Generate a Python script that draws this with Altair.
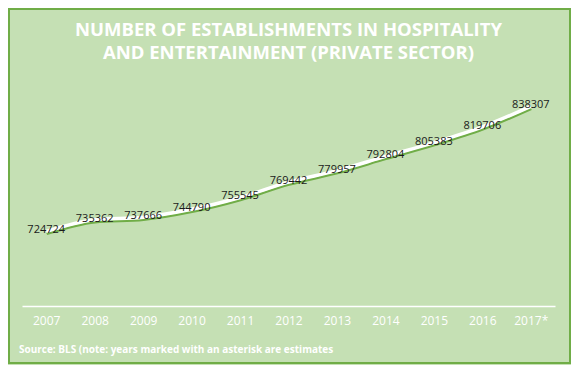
import altair as alt
import pandas as pd

years = ["2007", "2008", "2009", "2010", "2011", "2012", "2013", "2014", "2015", "2016", "2017*"]
values = [724724, 735362, 737666, 744790, 755545, 769442, 779957, 792804, 805383, 819706, 838307]
title_lines = ["NUMBER OF ESTABLISHMENTS IN HOSPITALITY", "AND ENTERTAINMENT (PRIVATE SECTOR)"]
source_text = "Source: BLS (note: years marked with an asterisk are estimates"

df = pd.DataFrame({"year": years, "value": values})

BG = "#c5e0b4"
GREEN = "#70ad47"
W, H = 533, 228

xenc = alt.X("year:O", sort=years,
             scale=alt.Scale(padding=0.5),
             axis=alt.Axis(title=None, labelAngle=0, ticks=False, grid=False,
                           domainColor="white", domainWidth=1.5,
                           labelColor="white", labelFont="Open Sans", labelFontSize=12,
                           labelPadding=9))
yenc = alt.Y("value:Q", scale=alt.Scale(domain=[657000, 864000], zero=False, nice=False),
             axis=None)

base = alt.Chart(df).encode(x=xenc, y=yenc)

shadow = base.mark_line(color=GREEN, strokeWidth=2.5, interpolate="monotone", yOffset=2.5, xOffset=0.5)
line = base.mark_line(color="white", strokeWidth=3.5, interpolate="monotone")
labels = base.mark_text(font="Open Sans", fontSize=11, color="#1a1a1a", dy=-1).encode(
    text=alt.Text("value:Q", format="d"))

border = alt.Chart(pd.DataFrame({"a": [0]})).mark_rect(
    fill=None, stroke=GREEN, strokeWidth=2, clip=False).encode(
    x=alt.value(-13), x2=alt.value(548), y=alt.value(-69), y2=alt.value(285))

title1 = alt.Chart(pd.DataFrame({"t": [title_lines[0]]})).mark_text(
    align="center", baseline="middle", font="Open Sans", fontWeight="bold", fontSize=18.5,
    color="white", clip=False).encode(x=alt.value(W / 2), y=alt.value(-48), text="t:N")
title2 = alt.Chart(pd.DataFrame({"t": [title_lines[1]]})).mark_text(
    align="center", baseline="middle", font="Open Sans", fontWeight="bold", fontSize=18.5,
    color="white", clip=False).encode(x=alt.value(W / 2), y=alt.value(-25), text="t:N")

source = alt.Chart(pd.DataFrame({"t": [source_text]})).mark_text(
    align="left", baseline="middle", font="Open Sans", fontWeight="bold", fontSize=10,
    color="white", clip=False).encode(x=alt.value(-3), y=alt.value(272), text="t:N")

chart = alt.layer(border, shadow, line, labels, title1, title2, source).properties(
    width=W, height=H,
    autosize=alt.AutoSizeParams(type="none"),
    padding={"left": 14, "top": 70, "right": 16, "bottom": 59},
).configure(background=BG).configure_view(stroke=None)

chart.save("out.html", embed_options={"renderer": "svg", "actions": False})
